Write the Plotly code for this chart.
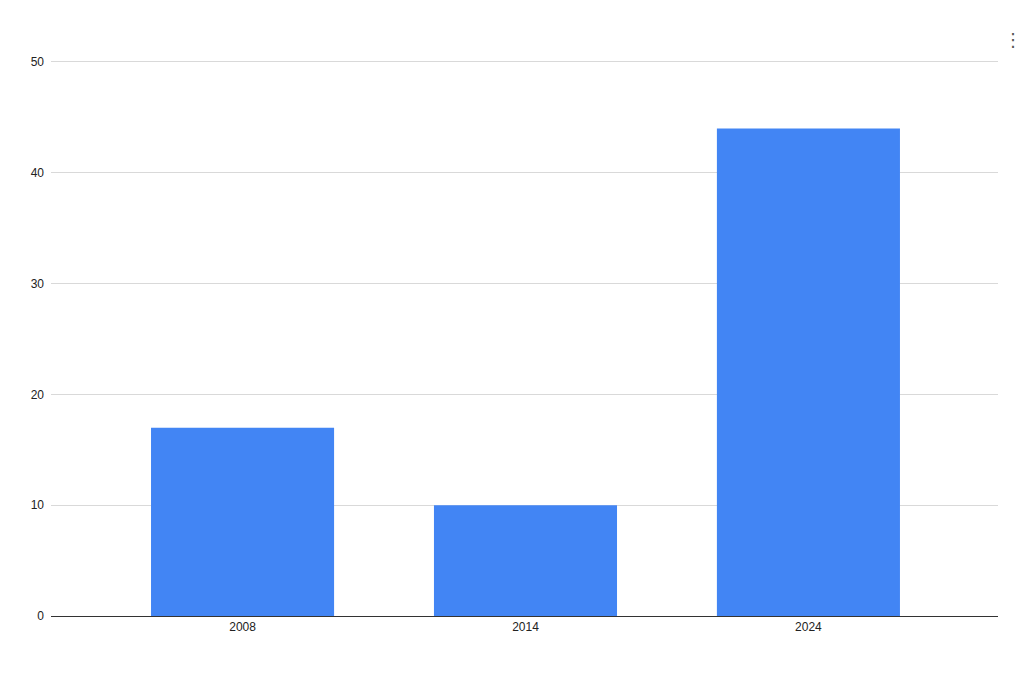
import plotly.graph_objects as go

categories = ["2008", "2014", "2024"]
values = [17, 10, 44]
y_ticks = [0, 10, 20, 30, 40, 50]

W, H = 1016, 675
L, R, T, B = 43, 26, 52, 67
PW, PH = W - L - R, H - T - B

fig = go.Figure()
fig.add_trace(go.Bar(
    x=categories,
    y=values,
    marker=dict(color="#4285F4", line=dict(width=0)),
    hoverinfo="x+y",
))

fig.update_layout(
    width=W,
    height=H,
    margin=dict(l=L, r=R, t=T, b=B),
    paper_bgcolor="white",
    plot_bgcolor="white",
    bargap=0.353,
    showlegend=False,
    font=dict(family="Liberation Sans, Arial, sans-serif", size=12, color="#222222"),
    xaxis=dict(
        type="category",
        range=[-0.677, 2.67],
        showgrid=False,
        showline=True,
        linecolor="#333333",
        linewidth=1,
        ticks="",
        tickfont=dict(size=12, color="#222222"),
        fixedrange=True,
    ),
    yaxis=dict(
        range=[0, 50.18],
        tickvals=y_ticks,
        showgrid=True,
        gridcolor="#d9d9d9",
        gridwidth=1,
        zeroline=False,
        showline=False,
        ticks="",
        ticklabelstandoff=6,
        tickfont=dict(size=12, color="#222222"),
        fixedrange=True,
    ),
)

# kebab menu icon at top right
fig.add_annotation(
    x=(1005 - L) / PW, y=(H - B - 31) / PH,
    xref="paper", yref="paper", xanchor="center", yanchor="middle",
    text="⋮", showarrow=False,
    font=dict(family="DejaVu Sans", size=18, color="#555555"),
)

fig.write_html("out.html", config={"displayModeBar": False})
